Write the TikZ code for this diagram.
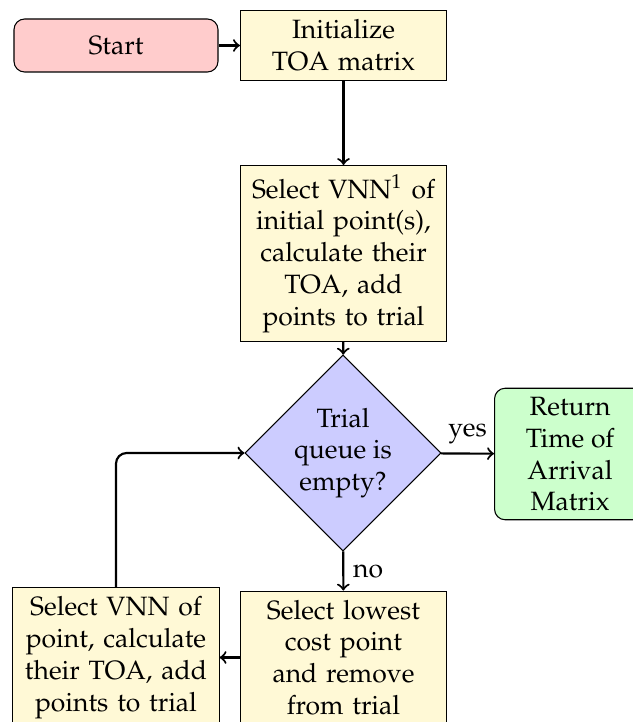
\documentclass[tikz,border=0pt]{standalone}
\usepackage[T1]{fontenc}
\usepackage{mathpazo}
\usetikzlibrary{shapes.geometric}
\definecolor{procfill}{RGB}{255,249,214}
\definecolor{startfill}{RGB}{255,204,204}
\definecolor{endfill}{RGB}{204,255,204}
\definecolor{decfill}{RGB}{204,204,255}
\tikzset{
  process/.style={draw, fill=procfill, text width=2.5cm, align=center, inner sep=0.3333em},
  terminal/.style={draw, rounded corners=4pt, align=center, inner sep=0.3333em},
  decision/.style={draw, diamond, fill=decfill, align=center, inner sep=0pt,
    minimum width=74pt, minimum height=74pt},
  flowarrow/.style={->, thick},
  edgelabel/.style={inner sep=0.3333em}
}
\begin{document}
\begin{tikzpicture}[x=0.37742pt, y=-0.37742pt, font=\fontsize{10}{12}\selectfont]
  \useasboundingbox (0,0) rectangle (632,722);

  % nodes, positioned on a 632 x 722 grid
  \node[terminal, fill=startfill, minimum width=77pt, minimum height=20pt] (start) at (116,45.5) {Start};
  \node[process] (init) at (343.5,45.5) {Initialize\\TOA matrix};
  \node[process, anchor=north] (vnn) at (343.5,165)
    {Select VNN$^1$ of\\initial point(s),\\calculate their\\TOA, add\\points to trial};
  \node[decision] (dec) at (343,453) {Trial\\queue is\\empty?};
  \node[terminal, fill=endfill, anchor=west, minimum width=57pt] (ret) at (494,454)
    {Return\\Time of\\Arrival\\Matrix};
  \node[process] (low) at (343.5,657.5) {Select lowest\\cost point\\and remove\\from trial};
  \node[process] (next) at (116,657.5)
    {Select VNN of\\point, calculate\\their TOA, add\\points to trial};

  % connectors
  \draw[flowarrow] (start) -- (init);
  \draw[flowarrow] (init) -- (vnn);
  \draw[flowarrow] (vnn) -- (dec);
  \draw[flowarrow] (dec) -- node[edgelabel, above] {yes} (ret);
  \draw[flowarrow] (dec) -- node[edgelabel, right] {no} (low);
  \draw[flowarrow] (low) -- (next);
  \draw[flowarrow, rounded corners=4pt] (next.north) |- (dec.west);
\end{tikzpicture}
\end{document}
